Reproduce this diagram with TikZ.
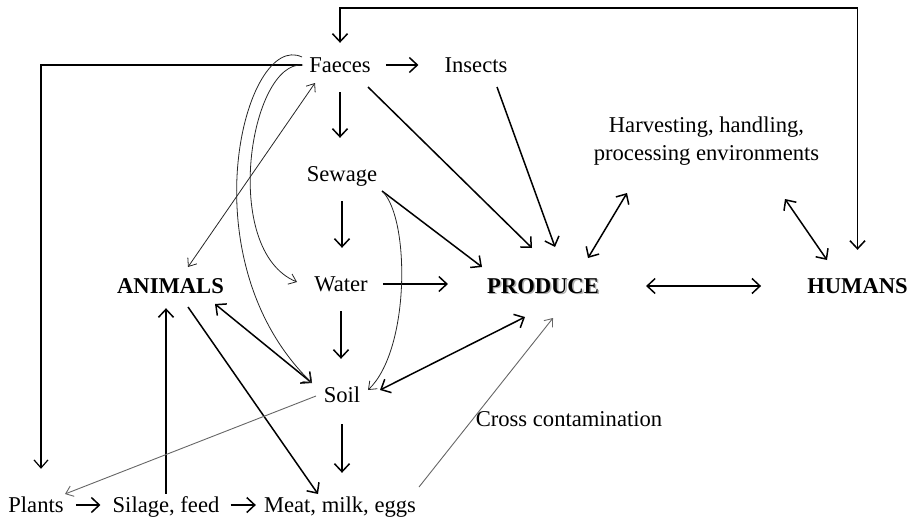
\documentclass[tikz,border=0pt]{standalone}
\usepackage{fontspec}
\setmainfont{Liberation Serif}
\usetikzlibrary{arrows.meta,calc}
\newcommand\shadowword[1]{\makebox[0pt][l]{\hspace{1.6pt}\raisebox{-1.6pt}{\textcolor{black!30}{#1}}}#1}
\tikzset{
  txt/.style={inner sep=0pt, text height=14pt, text depth=0pt, anchor=base,
    font=\fontsize{22.6}{28}\selectfont},
  bigtxt/.style={txt, font=\fontsize{22.6}{28}\selectfont\bfseries},
  thk/.style={line width=1.5pt, -{Straight Barb[length=8pt,width=15pt]}},
  thkboth/.style={line width=1.5pt, {Straight Barb[length=8pt,width=15pt]}-{Straight Barb[length=8pt,width=15pt]}},
  thn/.style={line width=0.8pt, black!85, -{Straight Barb[length=7pt,width=11pt]}},
  thnboth/.style={line width=0.8pt, black!85, {Straight Barb[length=7pt,width=11pt]}-{Straight Barb[length=7pt,width=11pt]}},
  grey/.style={line width=0.9pt, black!60, -{Straight Barb[length=7pt,width=11pt]}},
  vflow/.style={thk, shorten <=20pt, shorten >=29pt}
}
\begin{document}
\begin{tikzpicture}[x=1pt,y=-1pt]
  \useasboundingbox (0,0) rectangle (910,520);
  % sources and routes
  \node[txt] (faeces) at (340,72) {Faeces};
  \node[txt] (insects) at (476,72) {Insects};
  \node[txt] (sewage) at (342,181) {Sewage};
  \node[txt] (water) at (341,291) {Water};
  \node[txt] (soil) at (342,402) {Soil};
  \node[bigtxt] (animals) at (170.5,293) {ANIMALS};
  \node[bigtxt] (produce) at (543,293) {\shadowword{PRODUCE}};
  \node[bigtxt] (humans) at (857.5,293) {HUMANS};
  \node[inner sep=0pt, align=center, font=\fontsize{22.6}{28}\selectfont] (harvest) at (706.5,141)
    {Harvesting, handling,\\processing environments};
  \node[txt] (cross) at (569,426) {Cross contamination};
  % bottom row
  \node[txt] (plants) at (36,512) {Plants};
  \node[txt] (silage) at (166,512) {Silage, feed};
  \node[txt] (meat) at (340,512) {Meat, milk, eggs};

  % outer loops
  \draw[line width=1.5pt, {Straight Barb[length=8pt,width=15pt]}-{Straight Barb[length=8pt,width=15pt]},
    shorten <=15pt, shorten >=29pt] (faeces.north) -- ++(0,-50) -| (humans.north);
  \draw[line width=1.2pt, -{Straight Barb[length=8pt,width=14pt]}, shorten <=7pt, shorten >=29pt]
    (faeces.west) -| ([xshift=5pt]plants.north);

  % straight down the middle
  \draw[vflow] (faeces.south) -- (faeces.south |- sewage.north);
  \draw[vflow] (sewage.south) -- (sewage.south |- water.north);
  \draw[vflow] (water.south) -- (water.south |- soil.north);
  \draw[vflow, shorten <=22pt, shorten >=25pt] (soil.south) -- (soil.south |- meat.north);

  % across
  \draw[thk, shorten <=15pt, shorten >=26pt] (faeces.east) -- (insects.west);
  \draw[thk, shorten <=15pt, shorten >=39pt] (water.east) -- (water.east -| produce.west);
  \draw[thkboth, shorten <=47pt, shorten >=46pt] (produce.east) -- (humans.west);
  \draw[thk, shorten <=12pt, shorten >=12pt] (plants.east) -- (silage.west);
  \draw[thk, shorten <=11pt, shorten >=8pt] (silage.east) -- (meat.west);

  % into produce
  \draw[thk] ($(faeces)+(28,22)$) -- ($(produce)+(-11,-38)$);
  \draw[thk] ($(insects)+(21,22)$) -- ($(produce)+(12,-39)$);
  \draw[thk] ($(sewage)+(40,17)$) -- ($(produce)+(-61,-19)$);
  \draw[thkboth] ($(produce)+(45,-28)$) -- ($(harvest)+(-79.5,52)$);
  \draw[thkboth] ($(harvest)+(78.5,58)$) -- ($(humans)+(-30.5,-26)$);
  \draw[thkboth] ($(soil)+(38,-5)$) -- ($(produce)+(-18,31)$);
  \draw[grey] ($(meat)+(79,-18)$) -- ($(produce)+(10,32)$);

  % animals
  \draw[thkboth] ($(animals)+(44.5,18)$) -- ($(soil)+(-30,-12)$);
  \draw[thk] ($(animals)+(17.5,21)$) -- ($(meat)+(-22,-11)$);
  \draw[thk, shorten <=4pt, shorten >=15pt] (silage.north) -- (silage.north |- animals.south);
  \draw[thnboth] ($(animals)+(17.5,-19)$) -- ($(faeces)+(-25,18)$);
  \draw[grey] ($(soil)+(-26,1)$) -- ($(plants)+(29,-11)$);

  % curved routes
  \draw[thn] ($(faeces)+(-38,-8)$) .. controls (245,30) and (185,260) .. ($(soil)+(-30,-12)$);
  \draw[thn] ($(faeces)+(-37,0)$) .. controls (250,60) and (220,250) .. ($(water)+(-44,-2)$);
  \draw[thn] ($(sewage)+(41,18)$) .. controls (410,220) and (410,350) .. ($(soil)+(26,-5)$);
\end{tikzpicture}
\end{document}
